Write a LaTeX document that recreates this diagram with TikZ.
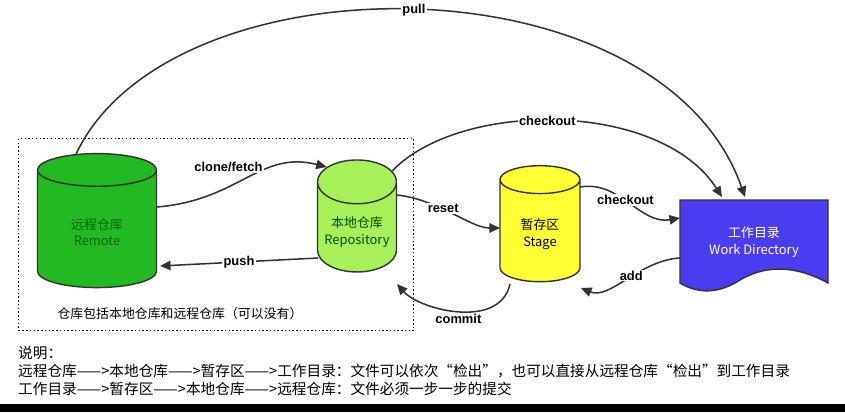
\documentclass[tikz,border=0pt]{standalone}
\usepackage{fontspec}
\setmainfont{Liberation Sans}
\newfontfamily\cjk{Noto Sans CJK SC}
\usetikzlibrary{shapes.geometric,arrows.meta}
\definecolor{remotec}{HTML}{22B922}
\definecolor{repoc}{HTML}{A8F05A}
\definecolor{stagec}{HTML}{FFFF33}
\definecolor{wdc}{HTML}{4B3CF2}
\begin{document}
\begin{tikzpicture}[x=0.03cm,y=-0.03cm,
  cyl/.style={cylinder,shape border rotate=90,draw=black!80,line width=1.2pt,align=center,font=\cjk\fontsize{11}{14}\selectfont},
  arr/.style={line width=1.3pt,draw=black!80,-{Triangle[length=9pt,width=8pt]}},
  lbl/.style={fill=white,font=\bfseries\fontsize{11}{13}\selectfont,inner sep=1pt}]
\useasboundingbox (0,0) rectangle (845,412);
\fill[white] (0,0) rectangle (845,412);
\node[draw,dotted,line width=1.2pt,minimum width=395*0.03cm,minimum height=192*0.03cm,anchor=north west] (box) at (18,138) {};
\node[cyl,aspect=0.55,fill=remotec,minimum width=119*0.03cm,minimum height=134*0.03cm,text=black!60!green] (remote) at (97,232) {远程仓库\\Remote};
\node[cyl,aspect=0.6,fill=repoc,minimum width=79*0.03cm,minimum height=112*0.03cm,text=black!70!green] (repo) at (357,232) {本地仓库\\Repository};
\node[cyl,aspect=0.6,fill=stagec,minimum width=80*0.03cm,minimum height=116*0.03cm] (stage) at (540,234) {暂存区\\Stage};
\draw[line width=1.2pt,draw=black!80,fill=wdc] (680,200) -- (828,200) -- (828,283) .. controls (790,262) and (760,268) .. (740,280) .. controls (715,296) and (695,292) .. (680,283) -- cycle;
\node[font=\cjk\fontsize{11}{14}\selectfont,text=white,align=center] (wd) at (754,242) {工作目录\\Work Directory};
\coordinate (wdtop) at (745,197);
\coordinate (wdtop2) at (722,197);
\coordinate (wdl1) at (680,218);
\coordinate (wdl2) at (680,258);
\node[font=\cjk\fontsize{11}{14}\selectfont] (note) at (180,314) {仓库包括本地仓库和远程仓库（可以没有）};
% arrows
\draw[arr] (remote.105) .. controls (170,-45) and (660,-45) .. (wdtop) node[lbl,pos=0.5] {pull};
\draw[arr] (repo.60) .. controls (460,100) and (660,100) .. (wdtop2) node[lbl,pos=0.47] {checkout};
\draw[arr] (157,207) .. controls (240,200) and (260,150) .. (repo.115) node[lbl,pos=0.6,above left=-2pt] {clone/fetch};
\draw[arr] (318,258) -- (160,266) node[lbl,pos=0.5] {push};
\draw[arr] (397,195) .. controls (440,200) and (470,228) .. (500,228) node[lbl,pos=0.4] {reset};
\draw[arr] (510,284) .. controls (500,330) and (420,310) .. (397,284) node[lbl,pos=0.5,below=1pt] {commit};
\draw[arr] (580,187) .. controls (620,180) and (640,225) .. (wdl1) node[lbl,pos=0.45] {checkout};
\draw[arr] (wdl2) .. controls (640,260) and (610,300) .. (581,288) node[lbl,pos=0.45] {add};
\node[font=\cjk\fontsize{12.5}{15.5}\selectfont,anchor=north west,align=left,inner sep=0pt] (desc) at (18,346) {说明：\\远程仓库——>本地仓库——>暂存区——>工作目录：文件可以依次“检出”，也可以直接从远程仓库“检出”到工作目录\\工作目录——>暂存区——>本地仓库——>远程仓库：文件必须一步一步的提交};
\fill[black] (0,404) rectangle (845,412);
\end{tikzpicture}
\end{document}
